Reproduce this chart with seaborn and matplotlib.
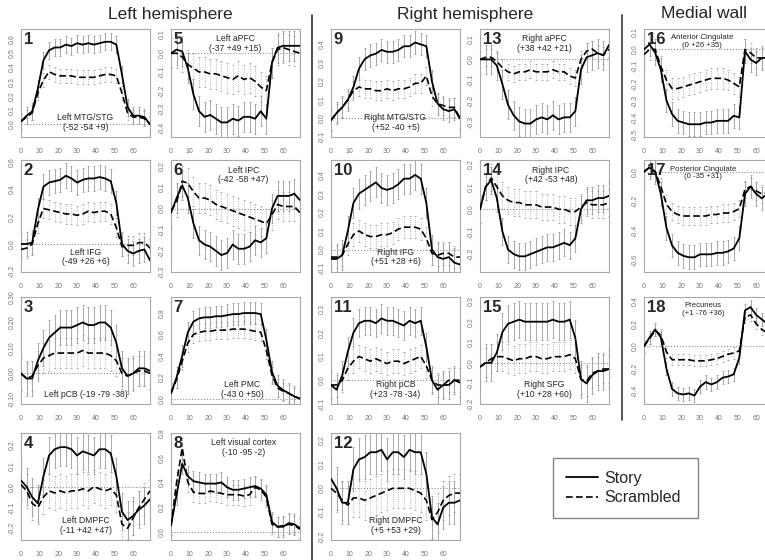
import numpy as np
import matplotlib.pyplot as plt
import seaborn as sns
from matplotlib.lines import Line2D

# time points (every 3rd scan)
t = np.arange(0, 70, 3)

# panel values (story = solid, scram = dashed)
story1 = [0.02, 0.06, 0.09, 0.25, 0.45, 0.52, 0.54, 0.54, 0.56, 0.55, 0.57, 0.56, 0.57, 0.56, 0.57, 0.58, 0.58, 0.56, 0.35, 0.12, 0.06, 0.06, 0.05, 0.0]
scram1 = [0.02, 0.05, 0.08, 0.22, 0.31, 0.37, 0.35, 0.34, 0.34, 0.34, 0.33, 0.33, 0.33, 0.33, 0.34, 0.35, 0.35, 0.34, 0.22, 0.08, 0.05, 0.05, 0.04, 0.0]
story2 = [0.0, 0.0, 0.01, 0.25, 0.42, 0.45, 0.46, 0.47, 0.5, 0.48, 0.45, 0.47, 0.48, 0.48, 0.49, 0.48, 0.46, 0.3, 0.0, -0.05, -0.07, -0.05, -0.04, -0.12]
scram2 = [-0.04, -0.03, 0.0, 0.15, 0.26, 0.25, 0.24, 0.23, 0.22, 0.22, 0.21, 0.22, 0.24, 0.23, 0.24, 0.24, 0.22, 0.12, -0.02, -0.01, -0.01, 0.01, 0.01, -0.03]
story3 = [0.0, -0.02, -0.02, 0.05, 0.1, 0.14, 0.16, 0.18, 0.18, 0.18, 0.19, 0.2, 0.19, 0.19, 0.2, 0.2, 0.18, 0.12, 0.02, -0.01, 0.0, 0.02, 0.02, 0.01]
scram3 = [0.0, -0.02, -0.01, 0.03, 0.06, 0.07, 0.08, 0.08, 0.08, 0.08, 0.08, 0.09, 0.08, 0.08, 0.08, 0.08, 0.07, 0.05, 0.0, -0.01, 0.0, 0.01, 0.01, 0.0]
story4 = [0.03, 0.0, -0.05, -0.08, 0.05, 0.15, 0.18, 0.19, 0.19, 0.18, 0.15, 0.17, 0.16, 0.15, 0.18, 0.18, 0.16, 0.05, -0.12, -0.16, -0.14, -0.11, -0.09, -0.06]
scram4 = [0.01, -0.02, -0.08, -0.1, -0.05, -0.02, -0.03, -0.02, -0.03, -0.02, -0.02, -0.01, -0.02, 0.0, -0.01, -0.02, -0.01, -0.04, -0.18, -0.2, -0.15, -0.1, -0.06, -0.02]
story5 = [0.0, 0.02, 0.01, -0.08, -0.22, -0.31, -0.34, -0.33, -0.35, -0.37, -0.37, -0.35, -0.36, -0.34, -0.34, -0.35, -0.31, -0.35, -0.05, 0.03, 0.04, 0.04, 0.04, 0.04]
scram5 = [0.0, 0.0, -0.02, -0.06, -0.08, -0.1, -0.1, -0.11, -0.11, -0.12, -0.13, -0.14, -0.12, -0.14, -0.13, -0.15, -0.18, -0.2, -0.05, 0.02, 0.03, 0.02, 0.01, 0.0]
story6 = [-0.02, 0.05, 0.11, 0.05, -0.07, -0.15, -0.17, -0.18, -0.2, -0.22, -0.21, -0.17, -0.19, -0.19, -0.18, -0.15, -0.16, -0.14, 0.0, 0.06, 0.06, 0.06, 0.07, 0.04]
scram6 = [-0.01, 0.03, 0.13, 0.12, 0.08, 0.05, 0.05, 0.04, 0.02, 0.01, 0.0, -0.01, -0.02, -0.03, -0.04, -0.05, -0.06, -0.07, -0.03, 0.02, 0.01, 0.01, 0.01, -0.02]
story7 = [0.05, 0.2, 0.4, 0.62, 0.72, 0.75, 0.76, 0.76, 0.77, 0.77, 0.78, 0.79, 0.79, 0.8, 0.8, 0.8, 0.79, 0.55, 0.25, 0.12, 0.08, 0.05, 0.02, 0.0]
scram7 = [0.05, 0.18, 0.35, 0.52, 0.6, 0.62, 0.63, 0.63, 0.64, 0.64, 0.64, 0.65, 0.65, 0.65, 0.64, 0.63, 0.62, 0.45, 0.22, 0.1, 0.07, 0.05, 0.02, 0.0]
story8 = [0.05, 0.3, 0.55, 0.45, 0.41, 0.4, 0.39, 0.39, 0.39, 0.4, 0.36, 0.34, 0.34, 0.35, 0.36, 0.37, 0.35, 0.3, 0.08, 0.04, 0.04, 0.07, 0.06, 0.03]
scram8 = [0.05, 0.4, 0.68, 0.4, 0.32, 0.31, 0.31, 0.33, 0.32, 0.31, 0.3, 0.3, 0.3, 0.29, 0.3, 0.36, 0.34, 0.28, 0.06, 0.04, 0.05, 0.06, 0.05, 0.02]
story9 = [-0.01, 0.03, 0.06, 0.1, 0.17, 0.27, 0.32, 0.34, 0.35, 0.37, 0.36, 0.36, 0.37, 0.39, 0.39, 0.41, 0.4, 0.39, 0.2, 0.08, 0.05, 0.04, 0.05, 0.0]
scram9 = [-0.01, 0.03, 0.06, 0.1, 0.15, 0.17, 0.16, 0.16, 0.15, 0.15, 0.16, 0.15, 0.16, 0.16, 0.17, 0.19, 0.19, 0.23, 0.12, 0.08, 0.07, 0.06, 0.06, 0.0]
story10 = [-0.05, -0.05, -0.03, 0.1, 0.25, 0.3, 0.32, 0.34, 0.36, 0.33, 0.32, 0.33, 0.35, 0.38, 0.38, 0.4, 0.38, 0.25, 0.0, -0.04, -0.05, -0.04, -0.07, -0.08]
scram10 = [-0.04, -0.04, -0.03, 0.03, 0.08, 0.1, 0.08, 0.07, 0.07, 0.08, 0.08, 0.09, 0.11, 0.12, 0.12, 0.12, 0.11, 0.06, -0.02, -0.03, -0.02, -0.02, -0.04, -0.04]
story11 = [-0.02, -0.04, 0.02, 0.12, 0.2, 0.24, 0.25, 0.25, 0.24, 0.26, 0.25, 0.25, 0.24, 0.23, 0.25, 0.24, 0.25, 0.14, 0.0, -0.04, -0.02, -0.02, 0.0, -0.01]
scram11 = [-0.02, -0.02, 0.0, 0.05, 0.08, 0.1, 0.09, 0.08, 0.09, 0.08, 0.07, 0.08, 0.08, 0.07, 0.08, 0.09, 0.1, 0.06, 0.0, -0.02, -0.02, 0.0, 0.0, 0.0]
story12 = [0.04, 0.0, -0.06, -0.06, 0.08, 0.12, 0.13, 0.15, 0.15, 0.16, 0.12, 0.15, 0.15, 0.13, 0.16, 0.15, 0.15, 0.06, -0.12, -0.15, -0.08, -0.06, -0.06, -0.05]
scram12 = [0.0, -0.02, -0.05, -0.07, -0.04, -0.04, -0.05, -0.04, -0.03, -0.02, -0.01, 0.0, 0.0, 0.0, 0.0, -0.01, -0.02, -0.05, -0.13, -0.1, -0.05, -0.03, -0.02, -0.02]
story13 = [0.0, 0.0, 0.0, -0.03, -0.12, -0.22, -0.27, -0.3, -0.31, -0.31, -0.29, -0.28, -0.29, -0.27, -0.29, -0.28, -0.28, -0.25, -0.05, 0.01, 0.02, 0.03, 0.02, 0.07]
scram13 = [0.0, 0.01, 0.01, -0.01, -0.04, -0.06, -0.07, -0.06, -0.06, -0.05, -0.06, -0.06, -0.06, -0.05, -0.06, -0.06, -0.08, -0.09, 0.0, 0.04, 0.05, 0.03, 0.02, 0.05]
story14 = [0.0, 0.1, 0.13, 0.05, -0.1, -0.18, -0.2, -0.21, -0.21, -0.2, -0.19, -0.18, -0.17, -0.17, -0.16, -0.15, -0.16, -0.13, 0.0, 0.04, 0.04, 0.05, 0.05, 0.06]
scram14 = [0.0, 0.1, 0.14, 0.1, 0.06, 0.04, 0.03, 0.03, 0.02, 0.02, 0.02, 0.01, 0.01, 0.01, 0.0, 0.0, -0.01, -0.01, 0.01, 0.03, 0.02, 0.02, 0.02, 0.03]
story15 = [-0.02, 0.0, 0.0, 0.05, 0.15, 0.19, 0.2, 0.21, 0.2, 0.2, 0.2, 0.2, 0.2, 0.21, 0.2, 0.2, 0.21, 0.12, -0.08, -0.1, -0.06, -0.04, -0.04, -0.03]
scram15 = [-0.02, 0.0, 0.02, 0.03, 0.03, 0.02, 0.01, 0.02, 0.02, 0.03, 0.03, 0.02, 0.02, 0.03, 0.03, 0.03, 0.04, 0.02, -0.08, -0.09, -0.05, -0.04, -0.03, -0.03]
story16 = [0.0, 0.03, -0.02, -0.12, -0.3, -0.38, -0.42, -0.43, -0.44, -0.44, -0.44, -0.43, -0.43, -0.42, -0.42, -0.42, -0.39, -0.4, -0.01, -0.06, -0.08, -0.05, -0.05, -0.06]
scram16 = [-0.03, 0.0, 0.0, -0.1, -0.18, -0.23, -0.23, -0.22, -0.21, -0.2, -0.19, -0.18, -0.17, -0.17, -0.17, -0.18, -0.2, -0.22, 0.0, -0.02, -0.05, -0.05, -0.05, -0.06]
story17 = [0.0, 0.03, 0.0, -0.15, -0.38, -0.5, -0.55, -0.57, -0.58, -0.58, -0.56, -0.56, -0.56, -0.55, -0.55, -0.54, -0.52, -0.45, -0.15, -0.1, -0.15, -0.18, -0.15, -0.13]
scram17 = [0.0, 0.03, 0.0, -0.1, -0.22, -0.27, -0.29, -0.3, -0.3, -0.3, -0.3, -0.3, -0.29, -0.29, -0.28, -0.28, -0.27, -0.25, -0.12, -0.1, -0.13, -0.15, -0.14, -0.13]
story18 = [0.0, 0.08, 0.15, 0.08, -0.2, -0.38, -0.42, -0.43, -0.42, -0.44, -0.36, -0.32, -0.34, -0.32, -0.28, -0.27, -0.25, -0.1, 0.32, 0.35, 0.28, 0.24, 0.2, 0.18]
scram18 = [0.0, 0.07, 0.14, 0.1, -0.05, -0.12, -0.12, -0.12, -0.12, -0.13, -0.13, -0.13, -0.12, -0.11, -0.09, -0.07, -0.06, -0.04, 0.26, 0.28, 0.2, 0.15, 0.12, 0.1]

# typical half-length of the error bars per panel
err_story = [0.06, 0.09, 0.07, 0.09, 0.08, 0.07, 0.1, 0.08, 0.06, 0.08, 0.06, 0.09, 0.07, 0.06, 0.09, 0.07, 0.08, 0.06]
err_scram = [0.05, 0.07, 0.06, 0.08, 0.08, 0.07, 0.08, 0.08, 0.05, 0.06, 0.05, 0.08, 0.04, 0.06, 0.07, 0.06, 0.06, 0.05]

ylims = [(-0.09, 0.67), (-0.205, 0.615), (-0.12, 0.30), (-0.256, 0.258),
         (-0.448, 0.13), (-0.30, 0.23), (-0.05, 0.95), (-0.067, 0.80),
         (-0.10, 0.483), (-0.12, 0.48), (-0.10, 0.35), (-0.215, 0.23),
         (-0.375, 0.147), (-0.28, 0.22), (-0.20, 0.32),
         (-0.515, 0.12), (-0.68, 0.08), (-0.515, 0.44)]
ystep = [0.1, 0.2, 0.1, 0.1, 0.1, 0.1, 0.2, 0.2, 0.1, 0.1, 0.1, 0.1, 0.1, 0.1, 0.1, 0.1, 0.2, 0.2]

names = ["Left MTG/STG\n(-52 -54 +9)", "Left IFG\n(-49 +26 +6)", "Left pCB (-19 -79 -38)",
         "Left DMPFC\n(-11 +42 +47)", "Left aPFC\n(-37 +49 +15)", "Left IPC\n(-42 -58 +47)",
         "Left PMC\n(-43 0 +50)", "Left visual cortex\n(-10 -95 -2)", "Right MTG/STG\n(+52 -40 +5)",
         "Right IFG\n(+51 +28 +6)", "Right pCB\n(+23 -78 -34)", "Right DMPFC\n(+5 +53 +29)",
         "Right aPFC\n(+38 +42 +21)", "Right IPC\n(+42 -53 +48)", "Right SFG\n(+10 +28 +60)",
         "Anterior Cingulate\n(0 +26 +35)", "Posterior Cingulate\n(0 -35 +31)", "Precuneus\n(+1 -76 +36)"]

stories = [story1, story2, story3, story4, story5, story6, story7, story8, story9,
           story10, story11, story12, story13, story14, story15, story16, story17, story18]
scrams = [scram1, scram2, scram3, scram4, scram5, scram6, scram7, scram8, scram9,
          scram10, scram11, scram12, scram13, scram14, scram15, scram16, scram17, scram18]

sns.set_style('white')
plt.rcParams['font.family'] = ['Liberation Sans', 'DejaVu Sans']

W, H = 765, 560
fig = plt.figure(figsize=(W / 100, H / 100), dpi=100)

# layout in pixels
col_left = [21, 171, 331, 480, 644]
box_w = 129
rows = [(29, 137), (160, 272), (297, 404), (433, 540)]
grid = [(0, 0), (0, 1), (0, 2), (0, 3), (1, 0), (1, 1), (1, 2), (1, 3),
        (2, 0), (2, 1), (2, 2), (2, 3), (3, 0), (3, 1), (3, 2), (4, 0), (4, 1), (4, 2)]
on_top = {5, 6, 8, 13, 14, 16, 17, 18}
label_x = {6: 0.56, 7: 0.55, 8: 0.56, 14: 0.55, 16: 0.45, 17: 0.46, 18: 0.46}

for i in range(18):
    n = i + 1
    c, r = grid[i]
    top, bot = rows[r]
    ax = fig.add_axes([col_left[c] / W, 1 - bot / H, box_w / W, (bot - top) / H])
    ax.axhline(0, color='#8a8a8a', ls=':', lw=0.8, zorder=1)

    eb = ax.errorbar(t, scrams[i], yerr=err_scram[i], fmt='none', ecolor='#a0a0a0',
                     elinewidth=0.6, capsize=1.0, capthick=0.6, zorder=2)
    eb[2][0].set_linestyle(':')
    ax.errorbar(t, stories[i], yerr=err_story[i], fmt='none', ecolor='#9a9a9a',
                elinewidth=0.6, capsize=1.0, capthick=0.6, zorder=2)

    sns.lineplot(x=t, y=scrams[i], ax=ax, color='black', linewidth=1.2,
                 linestyle=(0, (4, 2)), zorder=3)
    sns.lineplot(x=t, y=stories[i], ax=ax, color='black', linewidth=1.3, zorder=4)

    lo, hi = ylims[i]
    step = ystep[i]
    ax.set_xlim(0, 69)
    ax.set_ylim(lo, hi)
    ticks = np.round(np.arange(np.ceil(lo / step - 1e-9) * step, hi + 1e-9, step), 3)
    fmt = '{:.2f}' if n == 3 else '{:.1f}'
    ax.set_yticks(ticks)
    ax.set_yticklabels([fmt.format(v + 0.0) for v in ticks], rotation=90, va='center')
    ax.set_xticks(range(0, 70, 10))
    ax.tick_params(axis='both', labelsize=5, colors='#777777', length=2, width=0.5)
    ax.tick_params(axis='x', pad=6)
    ax.tick_params(axis='y', pad=1.5)
    for sp in ax.spines.values():
        sp.set_color('#a8a8a8')
        sp.set_linewidth(0.8)

    ax.text(0.02, 0.97, str(n), transform=ax.transAxes, ha='left', va='top',
            fontsize=12, fontweight='bold', zorder=6)
    lx = label_x.get(n, 0.5)
    fs = 5.6 if n >= 16 else 6.2
    if n in on_top:
        ax.text(lx, 0.95, names[i], transform=ax.transAxes, ha='center', va='top',
                fontsize=fs, linespacing=1.1, zorder=6)
    else:
        ax.text(lx, 0.05, names[i], transform=ax.transAxes, ha='center', va='bottom',
                fontsize=fs, linespacing=1.1, zorder=6)
    ax.set_xlabel('')
    ax.set_ylabel('')

# headers and separators
fig.text(170 / W, 1 - 14 / H, 'Left hemisphere', ha='center', va='center', fontsize=12.5)
fig.text(465 / W, 1 - 14 / H, 'Right hemisphere', ha='center', va='center', fontsize=12.5)
fig.text(704 / W, 1 - 14 / H, 'Medial wall', ha='center', va='center', fontsize=12.5)
fig.add_artist(Line2D([312 / W, 312 / W], [1 - 15 / H, 0], transform=fig.transFigure,
                      color='#444444', lw=1.3))
fig.add_artist(Line2D([622 / W, 622 / W], [1 - 15 / H, 1 - 420 / H], transform=fig.transFigure,
                      color='#444444', lw=1.3))

handles = [Line2D([], [], color='black', lw=1.3),
           Line2D([], [], color='black', lw=1.2, ls=(0, (4, 2)))]
leg = fig.legend(handles, ['Story', 'Scrambled'], loc='center',
                 bbox_to_anchor=(545 / W, 1 - 520 / H, 161 / W, 64 / H), mode='expand',
                 fontsize=11.5, frameon=True, fancybox=False, edgecolor='#666666',
                 handlelength=2.0, handletextpad=0.4, labelspacing=0.3, borderpad=0.8)
leg.get_frame().set_linewidth(1.0)

fig.savefig('out.png', dpi=100)
